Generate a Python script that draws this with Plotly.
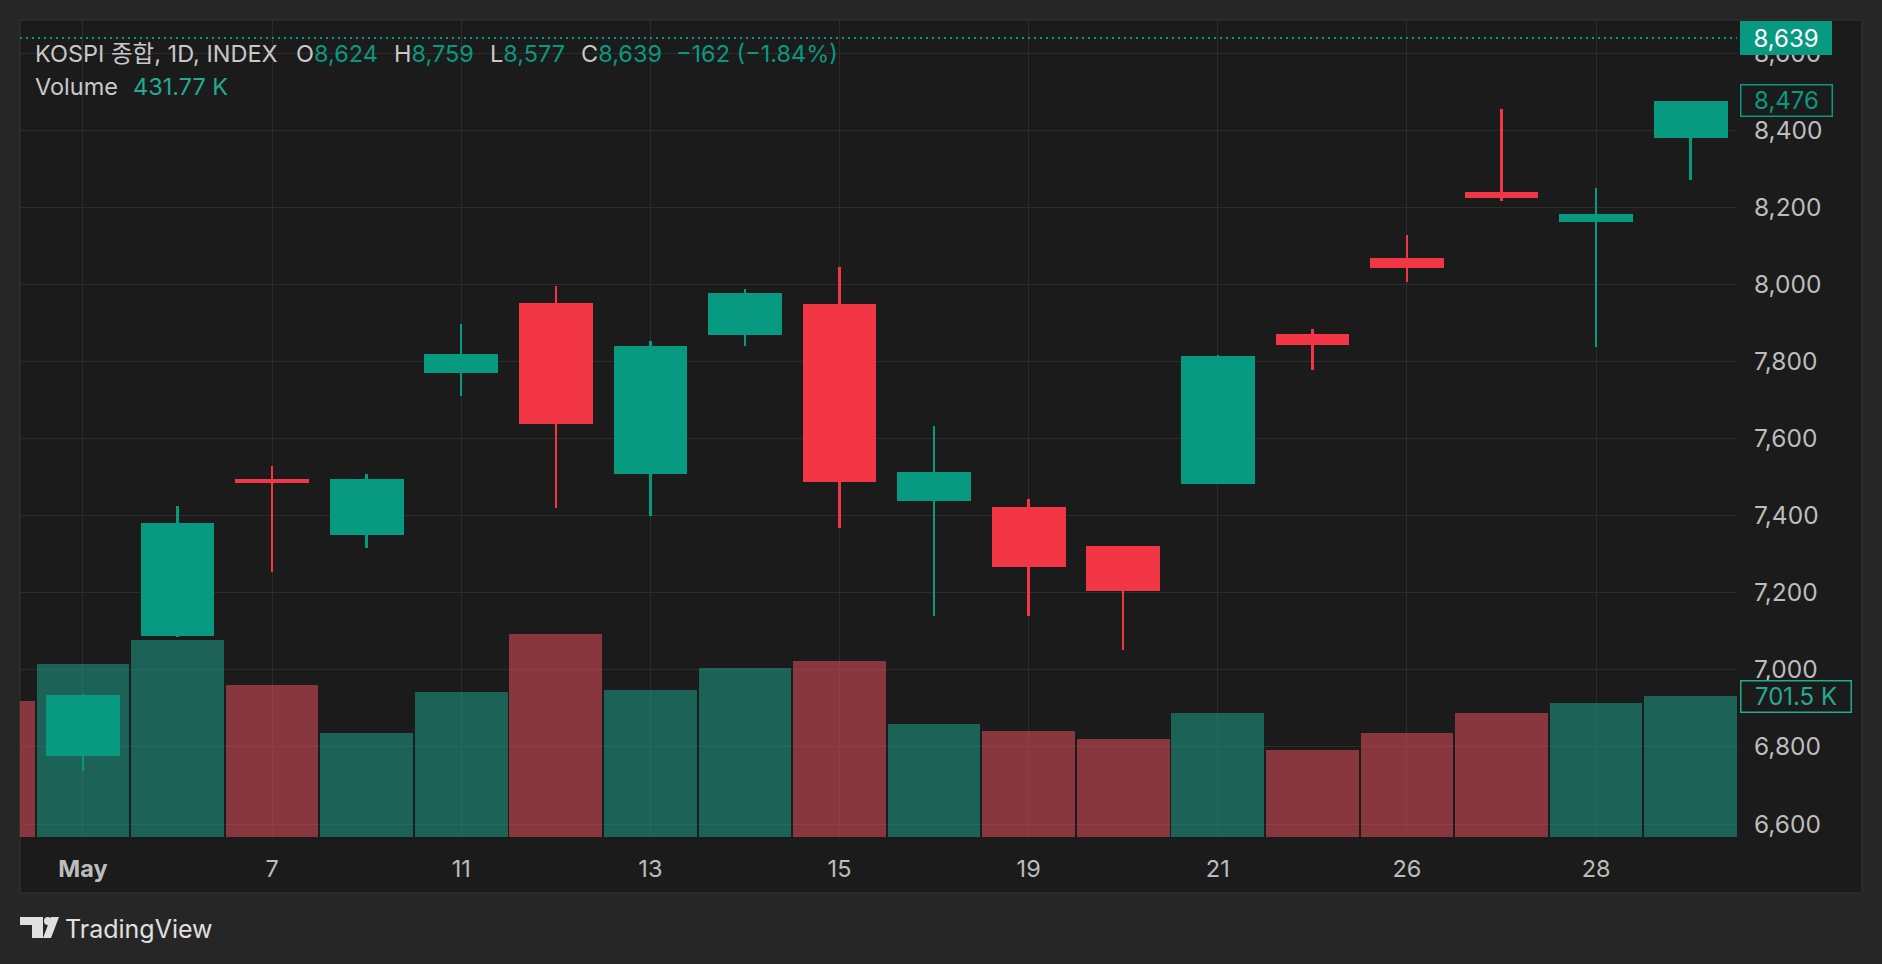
import plotly.graph_objects as go

# ---------------- data ----------------
dates = ["May 4", "May 6", "May 7", "May 8", "May 11", "May 12", "May 13", "May 14", "May 15",
         "May 18", "May 19", "May 20", "May 21", "May 22", "May 26", "May 27", "May 28", "May 29"]
open_ = [6776, 7088, 7495, 7350, 7771, 7951, 7509, 7869, 7949,
         7439, 7422, 7321, 7483, 7871, 8068, 8239, 8162, 8380]
high = [6938, 7425, 7529, 7508, 7897, 7996, 7853, 7988, 8045,
        7632, 7443, 7321, 7817, 7884, 8128, 8455, 8250, 8476]
low = [6738, 7085, 7254, 7316, 7711, 7420, 7399, 7841, 7369,
       7140, 7140, 7052, 7483, 7778, 8006, 8216, 7837, 8271]
close = [6935, 7381, 7485, 7495, 7819, 7638, 7840, 7977, 7488,
         7513, 7267, 7205, 7814, 7843, 8042, 8224, 8182, 8476]
volume = [861e3, 981e3, 756e3, 517e3, 721e3, 1011e3, 731e3, 841e3, 876e3,
          562e3, 527e3, 487e3, 617e3, 432e3, 517e3, 617e3, 667e3, 701.5e3]
prev_volume = 676.6e3          # Apr 30 bar, partly visible at left edge
prev_volume_down = True

price_ticks = [6600, 6800, 7000, 7200, 7400, 7600, 7800, 8000, 8200, 8400, 8600]
time_tick_idx = [0, 2, 4, 6, 8, 10, 12, 14, 16]
time_tick_text = ["<b>May</b>", "7", "11", "13", "15", "19", "21", "26", "28"]

last_price = 8639
last_visible_close = 8476
last_volume_label = "701.5 K"
header_symbol = "KOSPI 종합, 1D, INDEX"
header_o, header_h, header_l, header_c = "8,624", "8,759", "8,577", "8,639"
header_change = "−162 (−1.84%)"
header_volume = "431.77 K"

# ---------------- styles ----------------
UP = "#089981"
DOWN = "#f23645"
VOL_UP = "rgba(32,147,129,0.6)"
VOL_DOWN = "rgba(212,75,89,0.6)"
BG_OUT = "#262626"
BG_IN = "#1b1b1b"
GRID = "#2c2c2c"
TXT = "#bdbdbd"
HDR = "#c8c8c8"
FONT = "Inter, 'Noto Sans CJK KR', sans-serif"
HSIZE = 23.5

W, H = 1882, 964
ML, MR, MT, MB = 20, 145, 20, 127
PW, PH = W - ML - MR, H - MT - MB


def px(x):
    return (x - ML) / PW


def py(y):
    return (H - MB - y) / PH


n = len(dates)
xs = list(range(n))
up = [c >= o for o, c in zip(open_, close)]

fig = go.Figure()

# volume (base axis)
vx = [-1] + xs
vy = [prev_volume] + volume
vc = [VOL_DOWN if prev_volume_down else VOL_UP] + [VOL_UP if u else VOL_DOWN for u in up]
fig.add_trace(go.Bar(x=vx, y=vy, width=0.98, marker=dict(color=vc, line=dict(width=0)),
                     xaxis="x", yaxis="y", hoverinfo="skip", showlegend=False))

# wicks
fig.add_trace(go.Bar(x=xs, y=[h - l for h, l in zip(high, low)], base=low, width=0.026,
                     marker=dict(color=[UP if u else DOWN for u in up], line=dict(width=0)),
                     xaxis="x", yaxis="y2", hoverinfo="skip", showlegend=False))
# bodies
fig.add_trace(go.Bar(x=xs, y=[max(abs(c - o), 1) for o, c in zip(open_, close)],
                     base=[min(o, c) for o, c in zip(open_, close)], width=0.78,
                     marker=dict(color=[UP if u else DOWN for u in up], line=dict(width=0)),
                     xaxis="x", yaxis="y2", hoverinfo="skip", showlegend=False))

p_per_px = 200 / 77.1
y2_lo = 6600 - (837 - 824) * p_per_px
y2_hi = 6600 + (824 - 20) * p_per_px
vol_top = 701.5e3 * PH / 141.0

LOGO = "#e0e0e0"
shapes = [
    dict(type="rect", xref="paper", yref="paper", x0=px(20), x1=px(1862), y0=py(893), y1=py(20),
         fillcolor=BG_IN, line=dict(color="#353535", width=1), layer="below"),
    dict(type="line", xref="paper", yref="y2", x0=0, x1=1, y0=last_price, y1=last_price,
         line=dict(color=UP, width=2, dash="2px,4px"), layer="above"),
    # TradingView logo
    dict(type="path", xref="paper", yref="paper",
         path=f"M{px(20)},{py(917)} L{px(43)},{py(917)} L{px(43)},{py(938)} L{px(32)},{py(938)} "
              f"L{px(32)},{py(925)} L{px(20)},{py(925)} Z",
         fillcolor=LOGO, line=dict(width=0)),
    dict(type="circle", xref="paper", yref="paper", x0=px(44), x1=px(51.5), y0=py(917), y1=py(925),
         fillcolor=LOGO, line=dict(width=0)),
    dict(type="path", xref="paper", yref="paper",
         path=f"M{px(51)},{py(917)} L{px(59)},{py(917)} L{px(51)},{py(938)} L{px(43)},{py(938)} Z",
         fillcolor=LOGO, line=dict(width=0)),
]

g = f"<span style='color:{UP}'>"
ann = [
    dict(x=px(33), y=py(53), text=header_symbol, font=dict(size=HSIZE, color=HDR)),
    dict(x=px(294), y=py(53), text=f"O{g}{header_o}</span>", font=dict(size=HSIZE, color=HDR)),
    dict(x=px(392), y=py(53), text=f"H{g}{header_h}</span>", font=dict(size=HSIZE, color=HDR)),
    dict(x=px(488), y=py(53), text=f"L{g}{header_l}</span>", font=dict(size=HSIZE, color=HDR)),
    dict(x=px(579), y=py(53), text=f"C{g}{header_c}</span>", font=dict(size=HSIZE, color=HDR)),
    dict(x=px(674), y=py(53), text=header_change, font=dict(size=HSIZE, color=UP)),
    dict(x=px(33), y=py(87), text="Volume", font=dict(size=HSIZE, color=HDR)),
    dict(x=px(131), y=py(87), text=header_volume, font=dict(size=HSIZE, color="#22ab94")),
    dict(x=px(63), y=py(929), text="TradingView", font=dict(size=25, color=LOGO)),
]
for a in ann:
    a.update(xref="paper", yref="paper", xanchor="left", yanchor="middle", showarrow=False)
    a["font"]["family"] = FONT

ann += [
    dict(xref="paper", yref="y2", x=px(1740), y=last_price, xanchor="left", yanchor="middle",
         text=f"{last_price:,}", showarrow=False, width=90, height=32, borderpad=0,
         bgcolor=UP, bordercolor=UP, borderwidth=1, align="center",
         font=dict(family=FONT, size=24, color="#ffffff")),
    dict(xref="paper", yref="y2", x=px(1740), y=last_visible_close, xanchor="left", yanchor="middle",
         text=f"{last_visible_close:,}", showarrow=False, width=90, height=30, borderpad=0,
         bgcolor=BG_IN, bordercolor=UP, borderwidth=1.5, align="center",
         font=dict(family=FONT, size=24, color=UP)),
    dict(xref="paper", yref="y", x=px(1740), y=volume[-1], xanchor="left", yanchor="middle",
         text=last_volume_label, showarrow=False, width=109, height=30, borderpad=0,
         bgcolor=BG_IN, bordercolor="#22ab94", borderwidth=1.5, align="center",
         font=dict(family=FONT, size=24, color="#22ab94")),
]

fig.update_layout(
    width=W, height=H,
    margin=dict(l=ML, r=MR, t=MT, b=MB),
    paper_bgcolor=BG_OUT, plot_bgcolor=BG_IN,
    barmode="overlay", bargap=0,
    showlegend=False,
    font=dict(family=FONT, color=TXT),
    xaxis=dict(range=[-0.666, 17.49], tickmode="array", tickvals=time_tick_idx, ticktext=time_tick_text,
               showgrid=True, gridcolor=GRID, gridwidth=1, zeroline=False, showline=False,
               ticks="", ticklabelstandoff=15, tickfont=dict(family=FONT, size=23.5, color=TXT),
               fixedrange=True),
    yaxis=dict(range=[0, vol_top], visible=False, showgrid=False, zeroline=False, fixedrange=True),
    yaxis2=dict(range=[y2_lo, y2_hi], overlaying="y", side="right", anchor="x",
                tickmode="array", tickvals=price_ticks, tickformat=",d",
                showgrid=True, gridcolor=GRID, gridwidth=1, zeroline=False, showline=False,
                ticks="", ticklabelstandoff=16, tickfont=dict(family=FONT, size=24.5, color=TXT),
                fixedrange=True),
    shapes=shapes,
    annotations=ann,
)

fig.write_html("out.html", config={"displayModeBar": False})
